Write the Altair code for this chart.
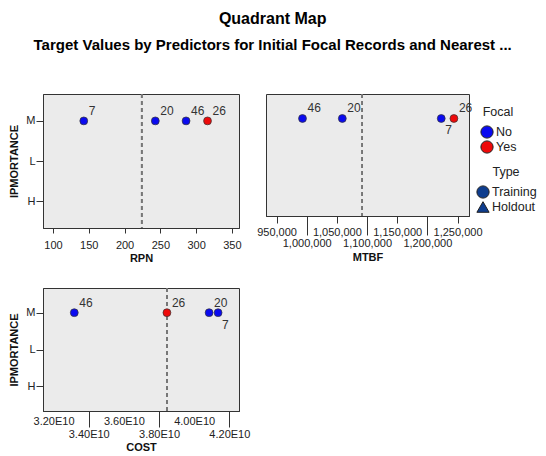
import altair as alt
import pandas as pd

# ---- data ----
ids = ["7", "20", "46", "26"]
focal = ["No", "No", "No", "Yes"]
types = ["Training", "Training", "Training", "Training"]
importance = ["M", "M", "M", "M"]
rpn = [143, 243, 286, 316]
mtbf = [1223000, 1059000, 993000, 1244000]
cost = [4.136e10, 4.085e10, 3.318e10, 3.845e10]

imp_levels = ["M", "L", "H"]
focal_levels = ["No", "Yes"]
type_levels = ["Training", "Holdout"]

rpn_ticks = [100, 150, 200, 250, 300, 350]
mtbf_row1 = [950000, 1050000, 1150000, 1250000]
mtbf_row2 = [1000000, 1100000, 1200000]
cost_row1 = [3.2e10, 3.6e10, 4.0e10]
cost_row2 = [3.4e10, 3.8e10, 4.2e10]

rpn_domain = [86, 360]
mtbf_domain = [932500, 1269000]
cost_domain = [3.14e10, 4.255e10]

rpn_ref = 224
mtbf_ref = 1092000
cost_ref = 3.845e10

below_mtbf = ["7"]
below_cost = ["7"]

df = pd.DataFrame({
    "ID": ids, "Focal": focal, "Type": types, "IPMORTANCE": importance,
    "RPN": rpn, "MTBF": mtbf, "COST": cost,
})

FONT = "Liberation Sans"
BLUE = "#0a0af0"
RED = "#ee0a0a"
NAVY = "#0e3d8e"

color_enc = alt.Color(
    "Focal:N",
    scale=alt.Scale(domain=focal_levels, range=[BLUE, RED]),
    legend=alt.Legend(
        title="Focal", orient="none", legendX=437, legendY=12,
        symbolType="circle", symbolSize=150, symbolStrokeColor="#222",
        symbolStrokeWidth=1, titleAnchor="middle", titleFontWeight="normal",
        titleFontSize=12.5, labelFontSize=12.5, titlePadding=6, clipHeight=15,
        labelOffset=2, rowPadding=0, titleColor="#222", labelColor="#222",
    ),
)
shape_enc = alt.Shape(
    "Type:N",
    scale=alt.Scale(domain=type_levels, range=["circle", "triangle-up"]),
    legend=alt.Legend(
        title="Type", orient="none", legendX=433, legendY=72,
        symbolSize=150, symbolFillColor=NAVY, symbolStrokeColor="#222",
        symbolStrokeWidth=1, titleAnchor="middle", titleFontWeight="normal",
        titleFontSize=12.5, labelFontSize=12.5, titlePadding=6, clipHeight=15,
        labelOffset=2, rowPadding=0, titleColor="#222", labelColor="#222",
    ),
)


def y_enc(show):
    if show:
        ax = alt.Axis(title="IPMORTANCE", titleFontWeight="bold", titleFontSize=11,
                      labelFontSize=11, tickSize=7, labelPadding=1, titlePadding=6)
    else:
        ax = None
    return alt.Y("IPMORTANCE:N", scale=alt.Scale(domain=imp_levels, type="point", padding=0.67),
                 axis=ax)


def panel(field, domain, ref, axis_a, axis_b, below, show_y, w, h):
    sc = alt.Scale(domain=domain, nice=False, zero=False)

    def xe(ax):
        return alt.X(f"{field}:Q", scale=sc, axis=ax)

    base = alt.Chart(df)
    pts = base.mark_point(filled=True, size=62, stroke="#333", strokeWidth=0.7, opacity=1).encode(
        x=xe(axis_a), y=y_enc(show_y), color=color_enc, shape=shape_enc
    )
    above = base.transform_filter(
        alt.FieldOneOfPredicate(field="ID", oneOf=[i for i in ids if i not in below])
    ).mark_text(align="left", baseline="middle", dx=5, dy=-10, fontSize=12, font=FONT, color="#333").encode(
        x=xe(axis_b), y=y_enc(show_y), text="ID:N"
    )
    layers = [pts, above]
    if below:
        bel = base.transform_filter(
            alt.FieldOneOfPredicate(field="ID", oneOf=below)
        ).mark_text(align="left", baseline="middle", dx=4, dy=12, fontSize=12, font=FONT, color="#333").encode(
            x=xe(None), y=y_enc(show_y), text="ID:N"
        )
        layers.append(bel)
    rule = alt.Chart(df).mark_rule(strokeDash=[4, 3], color="#777", strokeWidth=1.5).encode(
        x=alt.XDatum(ref, axis=None)
    )
    return alt.layer(rule, *layers).resolve_axis(x="independent").properties(width=w, height=h)


common = dict(labelFontSize=11, titleFontWeight="bold", titleFontSize=11,
              labelOverlap=False, orient="bottom", labelFlush=False)

rpn_axis = alt.Axis(title="RPN", values=rpn_ticks, format="d", tickSize=5, labelPadding=6,
                    titlePadding=2, **common)

mtbf_a = alt.Axis(title=None, values=mtbf_row1, format=",d", tickSize=7, labelPadding=3, **common)
mtbf_b = alt.Axis(title="MTBF", values=mtbf_row2, format=",d", tickSize=19, labelPadding=2,
                  titlePadding=3, **common)

cost_expr = "format(datum.value / 1e10, '.2f') + 'E10'"
cost_a = alt.Axis(title=None, values=cost_row1, labelExpr=cost_expr, ticks=False, labelPadding=4,
                  **common)
cost_b = alt.Axis(title="COST", values=cost_row2, labelExpr=cost_expr, tickSize=16, labelPadding=1,
                  titlePadding=2, **common)

p1 = panel("RPN", rpn_domain, rpn_ref, rpn_axis, None, [], True, 196, 134)
p2 = panel("MTBF", mtbf_domain, mtbf_ref, mtbf_a, mtbf_b, below_mtbf, False, 203, 122)
p3 = panel("COST", cost_domain, cost_ref, cost_a, cost_b, below_cost, True, 196, 123)

row1 = alt.hconcat(p1, p2, spacing=27, bounds="flush")
chart = alt.vconcat(row1, p3, spacing=22).properties(
    title=alt.TitleParams(
        "Quadrant Map",
        subtitle="Target Values by Predictors for Initial Focal Records and Nearest ...",
        fontSize=16, subtitleFontSize=15, fontWeight="bold", subtitleFontWeight="bold",
        font=FONT, subtitleFont=FONT, color="#000", subtitleColor="#000",
        anchor="middle", subtitlePadding=11, offset=40,
    ),
    padding={"left": 0, "top": 2, "right": 0, "bottom": 0},
).configure_view(
    fill="#ebebeb", stroke="#333", strokeWidth=1
).configure_axis(
    domainColor="#333", tickColor="#333", labelColor="#222", titleColor="#111",
    labelFont=FONT, titleFont=FONT, grid=False,
).configure_legend(
    labelFont=FONT, titleFont=FONT
)

chart.save("out.html", embed_options={"renderer": "svg", "actions": False})
